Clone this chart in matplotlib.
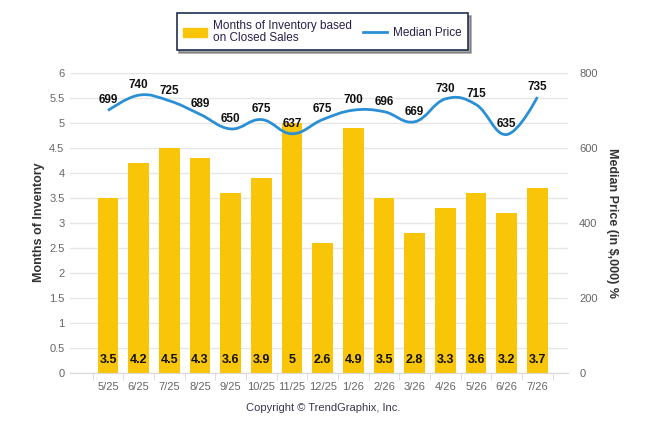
import matplotlib.pyplot as plt
from matplotlib.path import Path
from matplotlib.patches import PathPatch, Patch
from matplotlib.lines import Line2D

months = ["5/25", "6/25", "7/25", "8/25", "9/25", "10/25", "11/25", "12/25",
          "1/26", "2/26", "3/26", "4/26", "5/26", "6/26", "7/26"]
inventory = [3.5, 4.2, 4.5, 4.3, 3.6, 3.9, 5, 2.6, 4.9, 3.5, 2.8, 3.3, 3.6, 3.2, 3.7]
price = [699, 740, 725, 689, 650, 675, 637, 675, 700, 696, 669, 730, 715, 635, 735]

bar_color = "#F9C508"
line_color = "#2B8FD6"
tick_color = "#666666"

plt.rcParams["font.family"] = ["Liberation Sans", "DejaVu Sans"]


def spline_path(xs, ys, smoothing=1.5):
    # smooth curve through the points: cubic beziers, tangent from the neighbours
    n = len(xs)
    left = [None] * n
    right = [None] * n
    denom = smoothing + 1
    for i in range(n):
        if 0 < i < n - 1:
            lx = (smoothing * xs[i] + xs[i - 1]) / denom
            ly = (smoothing * ys[i] + ys[i - 1]) / denom
            rx = (smoothing * xs[i] + xs[i + 1]) / denom
            ry = (smoothing * ys[i] + ys[i + 1]) / denom
            corr = (ry - ly) * (rx - xs[i]) / (rx - lx) + ys[i] - ry
            left[i] = (lx, ly + corr)
            right[i] = (rx, ry + corr)
        else:
            left[i] = (xs[i], ys[i])
            right[i] = (xs[i], ys[i])
    verts = [(xs[0], ys[0])]
    codes = [Path.MOVETO]
    for i in range(1, n):
        verts += [right[i - 1], left[i], (xs[i], ys[i])]
        codes += [Path.CURVE4] * 3
    return Path(verts, codes)


fig = plt.figure(figsize=(6.46, 4.34), dpi=100)
ax = fig.add_axes([0.1084, 0.1417, 0.7709, 0.6908])
ax2 = ax.twinx()

x = list(range(len(months)))
ax.bar(x, inventory, width=0.67, color=bar_color, zorder=2)
ax.set_xlim(-1.24, 15.0)
ax.set_ylim(0, 6)
ax.set_yticks([i * 0.5 for i in range(13)])
ax.set_yticklabels(["0", "0.5", "1", "1.5", "2", "2.5", "3", "3.5", "4", "4.5",
                    "5", "5.5", "6"])
ax.set_xticks(x)
ax.set_xticklabels(months)
ax.set_xticks([i + 0.5 for i in range(-1, 15)], minor=True)
ax.grid(axis="y", color="#E6E6E6", linewidth=1, zorder=0)
ax.set_axisbelow(True)
ax.tick_params(axis="x", which="major", length=0, pad=7, labelsize=8, labelcolor=tick_color)
ax.tick_params(axis="x", which="minor", length=5, color="#D8D8D8")
ax.tick_params(axis="y", length=0, pad=4, labelsize=8, labelcolor=tick_color)
for s in ["top", "right", "left"]:
    ax.spines[s].set_visible(False)
    ax2.spines[s].set_visible(False)
ax.spines["bottom"].set_color("#D8D8D8")
ax2.spines["bottom"].set_visible(False)

for xi, v in zip(x, inventory):
    ax.annotate(f"{v:g}", (xi, 0), xytext=(0, 9), textcoords="offset points",
                ha="center", va="center", fontsize=9, fontweight="bold",
                color="#111111", zorder=5)

ax2.set_ylim(0, 800)
ax2.set_yticks([0, 200, 400, 600, 800])
ax2.tick_params(axis="y", length=0, pad=8, labelsize=8, labelcolor=tick_color)
ax2.add_patch(PathPatch(spline_path(x, price), fill=False, edgecolor=line_color,
                        linewidth=2, zorder=4))
for xi, v in zip(x, price):
    ax2.annotate(str(v), (xi, v), xytext=(0, 3), textcoords="offset points",
                 ha="center", va="bottom", fontsize=8.5, fontweight="bold",
                 color="#111111", zorder=5)

ax.set_ylabel("Months of Inventory", fontsize=9, fontweight="bold",
              color="#333333", labelpad=3)
ax2.set_ylabel("Median Price (in $,000) %", fontsize=9, fontweight="bold",
               color="#333333", rotation=270, labelpad=15)

handles = [Patch(color=bar_color), Line2D([0], [0], color=line_color, linewidth=2)]
leg = fig.legend(handles, ["Months of Inventory based\non Closed Sales", "Median Price"],
                 loc="center", bbox_to_anchor=(0.499, 0.927), ncol=2, frameon=True,
                 fancybox=False, shadow=True, handlelength=2.0,
                 handleheight=0.8, handletextpad=0.5, columnspacing=1.0,
                 borderpad=0.55, prop={"family": ["Liberation Sans"], "size": 8.5})
leg.get_frame().set_edgecolor("#1F3050")
leg.get_frame().set_linewidth(1.2)
for t in leg.get_texts():
    t.set_color("#2A1F4A")
    t.set_linespacing(1.0)

fig.text(0.5, 0.06, "Copyright \u00a9 TrendGraphix, Inc.", ha="center", va="center",
         fontsize=8, color="#3A3550")

fig.savefig("out.png", dpi=100)
